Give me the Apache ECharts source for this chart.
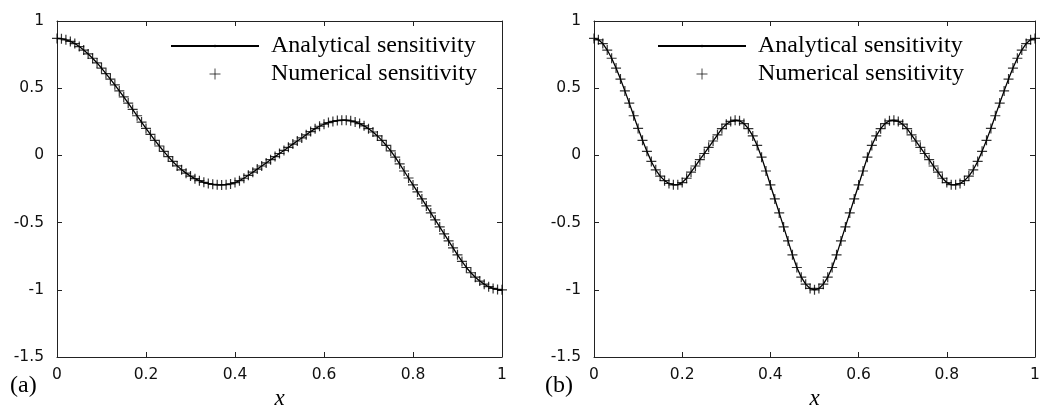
<!DOCTYPE html>
<html>
<head>
<meta charset="utf-8">
<script src="https://cdn.jsdelivr.net/npm/echarts@6/dist/echarts.min.js"></script>
<style>
html,body{margin:0;padding:0;background:#fff;}
#chart{width:1044px;height:414px;}
</style>
</head>
<body>
<div id="chart"></div>
<script>
// sample positions along x (step 0.01, 101 samples)
const sampleCount = 101;
// panel (a): sensitivity values
const leftAnalytical = [
  0.870,0.868,0.860,0.848,0.832,0.810,0.784,0.755,0.723,0.688,
  0.650,0.609,0.568,0.525,0.480,0.435,0.389,0.342,0.295,0.248,
  0.201,0.156,0.112,0.070,0.030,-0.009,-0.045,-0.078,-0.107,-0.132,
  -0.154,-0.173,-0.188,-0.200,-0.209,-0.215,-0.219,-0.220,-0.218,-0.212,
  -0.202,-0.188,-0.170,-0.148,-0.125,-0.102,-0.079,-0.056,-0.032,-0.009,
  0.014,0.037,0.060,0.084,0.107,0.130,0.153,0.177,0.199,0.217,
  0.232,0.244,0.253,0.259,0.262,0.262,0.257,0.249,0.237,0.220,
  0.199,0.174,0.145,0.112,0.074,0.033,-0.013,-0.063,-0.116,-0.168,
  -0.220,-0.272,-0.324,-0.376,-0.428,-0.480,-0.532,-0.584,-0.636,-0.688,
  -0.740,-0.789,-0.834,-0.873,-0.906,-0.935,-0.958,-0.977,-0.990,-0.997,
  -1.000
];
// numerical sensitivity coincides with the analytical one at the plotted resolution
const leftNumerical = leftAnalytical;
// panel (b)
const rightAnalytical = [
  0.870,0.860,0.832,0.784,0.723,0.650,0.568,0.480,0.389,0.295,
  0.201,0.112,0.030,-0.045,-0.107,-0.154,-0.188,-0.209,-0.219,-0.218,
  -0.202,-0.170,-0.125,-0.079,-0.032,0.014,0.060,0.107,0.153,0.199,
  0.232,0.253,0.262,0.257,0.237,0.199,0.145,0.074,-0.013,-0.116,
  -0.220,-0.324,-0.428,-0.532,-0.636,-0.740,-0.834,-0.906,-0.958,-0.990,
  -1.000,
  -0.990,-0.958,-0.906,-0.834,-0.740,-0.636,-0.532,-0.428,-0.324,-0.220,
  -0.116,-0.013,0.074,0.145,0.199,0.237,0.257,0.262,0.253,0.232,
  0.199,0.153,0.107,0.060,0.014,-0.032,-0.079,-0.125,-0.170,-0.202,
  -0.218,-0.219,-0.209,-0.188,-0.154,-0.107,-0.045,0.030,0.112,0.201,
  0.295,0.389,0.480,0.568,0.650,0.723,0.784,0.832,0.860,0.870
];
const rightNumerical = rightAnalytical;

const seriesNames = ['Analytical sensitivity', 'Numerical sensitivity'];
const panelLabels = ['(a)', '(b)'];
const xAxisName = 'x';
const xTicks = {min: 0, max: 1, interval: 0.2};
const yTicks = {min: -1.5, max: 1, interval: 0.5};

function pairs(vals) {
  return vals.map((v, i) => [i / (sampleCount - 1), v]);
}

const axisColor = '#222';
const tickFont = {fontFamily: 'DejaVu Sans', fontSize: 15.5, color: '#111'};
const plusPath = 'path://M0,5L10,5M5,0L5,10';

const grids = [
  {left: 57, top: 21, width: 445, height: 336, outerBoundsMode: 'none', containLabel: false},
  {left: 594, top: 21, width: 441, height: 336, outerBoundsMode: 'none', containLabel: false}
];

const xAxes = [], yAxes = [];
grids.forEach((g, gi) => {
  xAxes.push({
    type: 'value', gridIndex: gi, position: 'bottom', ...xTicks,
    name: xAxisName, nameLocation: 'middle', nameGap: 28,
    nameTextStyle: {fontFamily: 'Liberation Serif', fontStyle: 'italic', fontSize: 23, color: '#000'},
    axisLine: {show: true, onZero: false, lineStyle: {color: axisColor, width: 1}},
    axisTick: {show: true, inside: true, length: 5, lineStyle: {color: axisColor}},
    axisLabel: {...tickFont, margin: 10, formatter: v => String(+v.toFixed(2))},
    splitLine: {show: false}
  });
  xAxes.push({
    type: 'value', gridIndex: gi, position: 'top', ...xTicks,
    axisLine: {show: true, onZero: false, lineStyle: {color: axisColor, width: 1}},
    axisTick: {show: true, inside: true, length: 5, lineStyle: {color: axisColor}},
    axisLabel: {show: false}, splitLine: {show: false}
  });
  yAxes.push({
    type: 'value', gridIndex: gi, position: 'left', ...yTicks,
    axisLine: {show: true, onZero: false, lineStyle: {color: axisColor, width: 1}},
    axisTick: {show: true, inside: true, length: 5, lineStyle: {color: axisColor}},
    axisLabel: {...tickFont, margin: 13, padding: [0, 0, 6, 0], formatter: v => String(+v.toFixed(2))},
    splitLine: {show: false}
  });
  yAxes.push({
    type: 'value', gridIndex: gi, position: 'right', ...yTicks,
    axisLine: {show: true, onZero: false, lineStyle: {color: axisColor, width: 1}},
    axisTick: {show: true, inside: true, length: 5, lineStyle: {color: axisColor}},
    axisLabel: {show: false}, splitLine: {show: false}
  });
});

const panelData = [[leftAnalytical, leftNumerical], [rightAnalytical, rightNumerical]];
const series = [];
panelData.forEach((pd, gi) => {
  series.push({
    name: seriesNames[0], type: 'line', xAxisIndex: gi * 2, yAxisIndex: gi * 2,
    data: pairs(pd[0]), showSymbol: false, symbol: 'circle',
    lineStyle: {color: '#000', width: 1.3}, itemStyle: {color: '#000'},
    animation: false, silent: true, z: 3
  });
  series.push({
    name: seriesNames[1], type: 'scatter', xAxisIndex: gi * 2, yAxisIndex: gi * 2,
    data: pairs(pd[1]), symbol: plusPath, symbolSize: 10,
    itemStyle: {color: 'none', borderColor: '#000', borderWidth: 1.2},
    animation: false, silent: true, z: 2
  });
});

const legendText = {fontFamily: 'Liberation Serif', fontSize: 24, color: '#000', lineHeight: 24, padding: [0, 0, 0, 7]};
const legends = [];
[170, 657].forEach(left => {
  legends.push({
    left: left, top: 34, padding: 0, orient: 'vertical', itemWidth: 88, itemHeight: 3,
    data: [seriesNames[0]], textStyle: legendText, selectedMode: false
  });
  legends.push({
    left: left + 37, top: 62, padding: 0, orient: 'vertical', itemWidth: 88, itemHeight: 11,
    itemStyle: {borderWidth: 0.9},
    data: [seriesNames[1]], textStyle: legendText, selectedMode: false
  });
});

const option = {
  animation: false,
  backgroundColor: '#fff',
  grid: grids,
  xAxis: xAxes,
  yAxis: yAxes,
  legend: legends,
  title: panelLabels.map((t, i) => ({
    text: t, left: i === 0 ? 10 : 545, top: 374, padding: 0,
    textStyle: {fontFamily: 'Liberation Serif', fontWeight: 'normal', fontSize: 24, color: '#000'}
  })),
  series: series
};

const chart = echarts.init(document.getElementById('chart'), null, {renderer: 'canvas'});
chart.setOption(option);
</script>
</body>
</html>
